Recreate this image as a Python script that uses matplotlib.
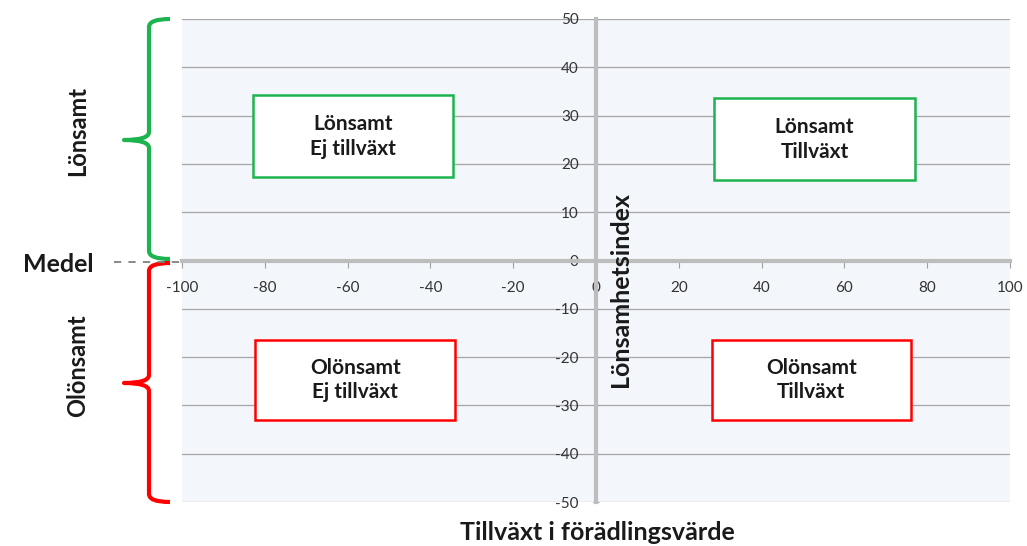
import matplotlib
matplotlib.use("Agg")
import matplotlib.pyplot as plt
from matplotlib.path import Path
from matplotlib.patches import PathPatch
from matplotlib.lines import Line2D

plt.rcParams["font.family"] = ["Lato", "DejaVu Sans"]

# axis ranges / ticks
x_ticks = list(range(-100, 101, 20))
y_ticks = list(range(-50, 51, 10))

# quadrant boxes: label, (x0, x1, y0, y1) in data units, colour
box_labels = ["Lönsamt\nEj tillväxt", "Lönsamt\nTillväxt",
              "Olönsamt\nEj tillväxt", "Olönsamt\nTillväxt"]
box_x0 = [-82.8, 28.5, -82.3, 28.0]
box_x1 = [-34.5, 77.0, -34.0, 76.0]
box_y0 = [17.3, 16.6, -33.0, -33.0]
box_y1 = [34.2, 33.6, -16.5, -16.5]
box_colors = ["#1DB34F", "#1DB34F", "#FF0000", "#FF0000"]

side_labels = ["Lönsamt", "Olönsamt"]

W, H = 1027, 546
fig = plt.figure(figsize=(W / 100, H / 100), dpi=100)
ax = fig.add_axes([182 / W, 1 - 502 / H, 828 / W, 483 / H])
ax.set_facecolor("#F3F6FB")
ax.set_xlim(-100, 100)
ax.set_ylim(-50, 50)

for s in ["top", "right"]:
    ax.spines[s].set_visible(False)
ax.spines["left"].set_position("zero")
ax.spines["bottom"].set_position("zero")
for s in ["left", "bottom"]:
    ax.spines[s].set_color("#BDBDBD")
    ax.spines[s].set_linewidth(3)
    ax.spines[s].set_zorder(3)

ax.set_xticks(x_ticks)
ax.set_yticks(y_ticks)
ax.set_xticklabels([str(v) for v in x_ticks])
ax.set_yticklabels([str(v) for v in y_ticks])
ax.tick_params(axis="both", labelsize=11, colors="#333333", length=5, width=0.8)
ax.tick_params(axis="x", pad=10, color="#A0A0A0")
ax.tick_params(axis="y", pad=10, color="#A0A0A0", direction="inout")
ax.yaxis.grid(True, color="#A6A6A6", linewidth=0.9)
ax.set_axisbelow(True)

for lbl, x0, x1, y0, y1, c in zip(box_labels, box_x0, box_x1, box_y0, box_y1, box_colors):
    ax.add_patch(plt.Rectangle((x0, y0), x1 - x0, y1 - y0, facecolor="white",
                               edgecolor=c, linewidth=1.8, zorder=4))
    ax.text((x0 + x1) / 2, (y0 + y1) / 2, lbl, ha="center", va="center",
            fontsize=15, fontweight="bold", color="#1A1A1A", linespacing=1.3, zorder=5)

# axis titles
fig.text(620 / W, 1 - 290 / H, "Lönsamhetsindex", rotation=90, ha="center", va="center",
         fontsize=18, fontweight="bold", color="#1A1A1A")
fig.text(597 / W, 1 - 532 / H, "Tillväxt i förädlingsvärde", ha="center", va="center",
         fontsize=18, fontweight="bold", color="#1A1A1A")


def px(x, y):
    return (x / W, 1 - y / H)


def brace(top, bottom, mid, color):
    xr, xb, xt = 170, 149, 124
    verts = [px(xr, top), px(xb, top), px(xb, top + 8),
             px(xb, mid - 8),
             px(xb, mid), px(xt, mid),
             px(xb, mid), px(xb, mid + 8),
             px(xb, bottom - 8),
             px(xb, bottom), px(xr, bottom)]
    codes = [Path.MOVETO, Path.CURVE3, Path.CURVE3,
             Path.LINETO,
             Path.CURVE3, Path.CURVE3,
             Path.CURVE3, Path.CURVE3,
             Path.LINETO,
             Path.CURVE3, Path.CURVE3]
    fig.patches.append(PathPatch(Path(verts, codes), transform=fig.transFigure,
                                 facecolor="none", edgecolor=color, linewidth=3,
                                 capstyle="butt", joinstyle="round"))


brace(19, 259, 140, "#1DB34F")
brace(263, 502, 383, "#FF0000")

fig.text(*px(78, 131), side_labels[0], rotation=90, ha="center", va="center",
         fontsize=17, fontweight="bold", color="#1A1A1A")
fig.text(*px(78, 366), side_labels[1], rotation=90, ha="center", va="center",
         fontsize=17, fontweight="bold", color="#1A1A1A")
fig.text(*px(58, 264), "Medel", ha="center", va="center",
         fontsize=18, fontweight="bold", color="#1A1A1A")
fig.lines.append(Line2D([114 / W, 182 / W], [1 - 262 / H, 1 - 262 / H],
                        transform=fig.transFigure, color="#808080",
                        linestyle=(0, (4, 4)), linewidth=1.3))

fig.savefig("out.png", dpi=100, facecolor="white")
